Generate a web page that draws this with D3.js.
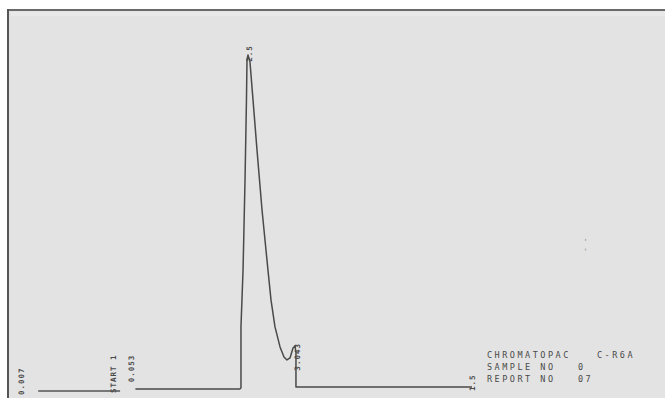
<!DOCTYPE html>
<html>
<head>
<meta charset="utf-8">
<script src="https://cdn.jsdelivr.net/npm/d3@7"></script>
<style>
  body { margin: 0; background: #fff; }
  text { font-family: "DejaVu Sans Mono", "Liberation Mono", monospace; fill: #4a4a4a; }
</style>
</head>
<body>
<div id="chart"></div>
<script>
// retention time (min) / detector signal (% of full scale)
const traceStartTime = [0.18, 1.09];
const traceStartSignal = [-0.6, -0.6];

const traceTime = [1.26, 2.42, 2.433, 2.433, 2.456, 2.478, 2.494, 2.5, 2.511, 2.533, 2.567,
  2.611, 2.667, 2.733, 2.767, 2.811, 2.867, 2.911, 2.944, 2.978, 3.011, 3.033, 3.044, 3.044, 5.0];
const traceSignal = [0, 0, 0.3, 18.6, 35.6, 62.6, 86.5, 98.5, 100, 97.9, 86.5,
  71.6, 53.6, 35.6, 26.6, 18.6, 12.6, 9.6, 8.7, 9.3, 12.3, 12.9, 11, 0.6, 0.6];

// rotated printer marks along the trace
const markTime = [0.02, 1.04, 1.24, 2.55, 3.09, 5.03];
const markSignal = [-1.8, -1.2, 2.0, 98.0, 5.5, -0.6];
const markText = ["0.007", "START 1", "0.053", "2.5", "3.043", "1.5"];

// report footer
const infoKeys = ["CHROMATOPAC", "SAMPLE NO", "REPORT NO"];
const infoValues = ["C-R6A", "0", "07"];

const width = 665, height = 398;

const svg = d3.select("#chart").append("svg")
  .attr("width", width)
  .attr("height", height);

// paper
svg.append("rect")
  .attr("x", 9).attr("y", 10)
  .attr("width", width - 9).attr("height", height - 10)
  .attr("fill", "#e3e3e3");
svg.append("rect")
  .attr("x", 11).attr("y", 12)
  .attr("width", width - 11).attr("height", 4)
  .attr("fill", "#e9e9e9");
svg.append("line")
  .attr("x1", 7).attr("x2", width).attr("y1", 10).attr("y2", 10)
  .attr("stroke", "#6a6a6a").attr("stroke-width", 2);
svg.append("line")
  .attr("x1", 8).attr("x2", 8).attr("y1", 9).attr("y2", height)
  .attr("stroke", "#555").attr("stroke-width", 2);

const x = d3.scaleLinear().domain([0, 5]).range([22, 472]);
const y = d3.scaleLinear().domain([0, 100]).range([389, 55]);

const line = d3.line()
  .x(d => x(d[0]))
  .y(d => y(d[1]));

const g = svg.append("g");

g.append("path")
  .attr("d", line(d3.zip(traceStartTime, traceStartSignal)))
  .attr("fill", "none")
  .attr("stroke", "#555")
  .attr("stroke-width", 1.4);

g.append("path")
  .attr("d", line(d3.zip(traceTime, traceSignal)))
  .attr("fill", "none")
  .attr("stroke", "#4a4a4a")
  .attr("stroke-width", 1.5)
  .attr("stroke-linejoin", "round");

// rotated labels, reading bottom to top
g.selectAll("text.mark")
  .data(d3.range(markText.length))
  .enter()
  .append("text")
  .attr("class", "mark")
  .attr("transform", i => "translate(" + x(markTime[i]) + "," + y(markSignal[i]) + ") rotate(-90)")
  .attr("font-size", 7.5)
  .attr("font-weight", "bold")
  .attr("letter-spacing", 1)
  .text(i => markText[i]);

// two faint ticks on the right
svg.append("text")
  .attr("transform", "translate(588,252) rotate(-90)")
  .attr("font-size", 8)
  .style("fill", "#8a8a8a")
  .text("- -");

const info = svg.append("g");
info.selectAll("text.key")
  .data(infoKeys)
  .enter()
  .append("text")
  .attr("class", "key")
  .attr("x", 487)
  .attr("y", (d, i) => 358 + i * 12)
  .attr("font-size", 8.5)
  .attr("letter-spacing", 2.5)
  .text(d => d);
info.selectAll("text.val")
  .data(infoValues)
  .enter()
  .append("text")
  .attr("class", "val")
  .attr("x", (d, i) => i === 0 ? 597 : 578)
  .attr("y", (d, i) => 358 + i * 12)
  .attr("font-size", 8.5)
  .attr("letter-spacing", 2.5)
  .text(d => d);
</script>
</body>
</html>
